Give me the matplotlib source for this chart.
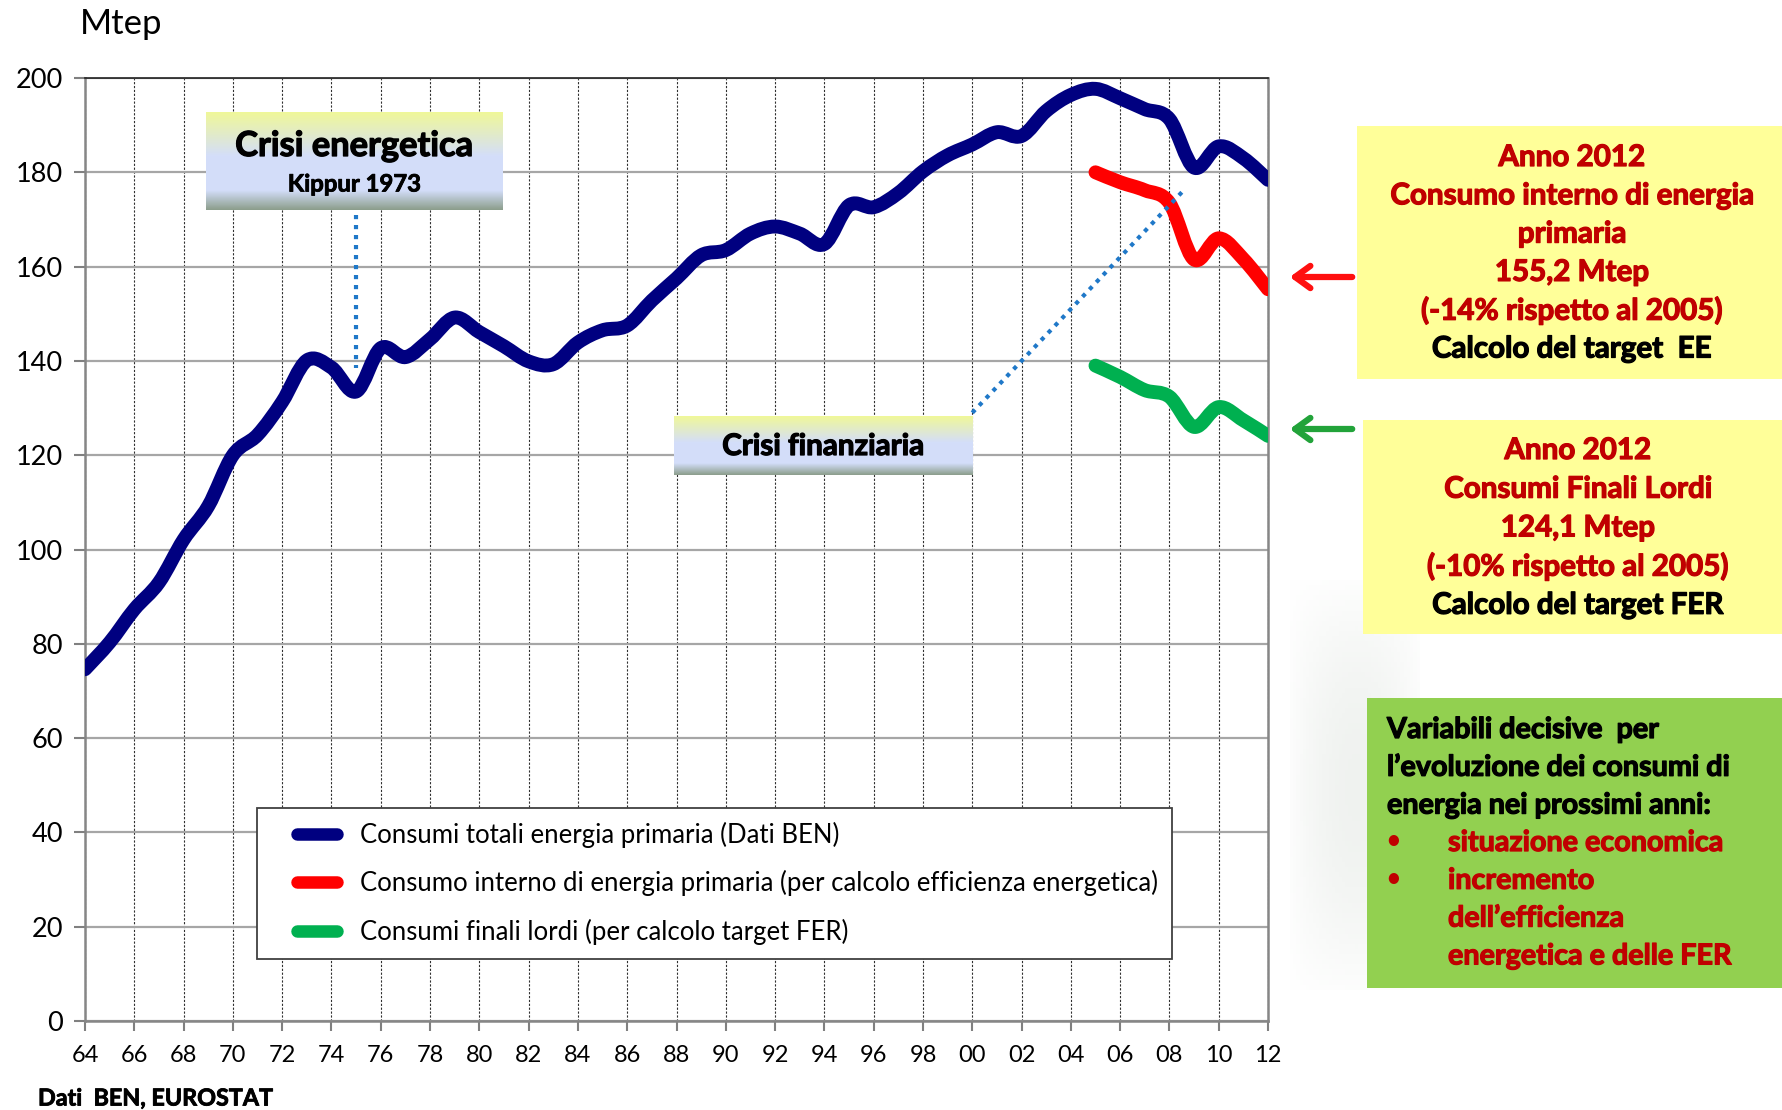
"""
Consumi di energia in Italia 1964-2012 (Mtep): primaria BEN, consumo interno, consumi finali lordi.
Salva out.png (1783x1110).
"""
import numpy as np
import matplotlib
matplotlib.use("Agg")
import matplotlib.pyplot as plt
import matplotlib.patheffects as pe
from matplotlib.path import Path
from matplotlib.patches import PathPatch, Rectangle
from matplotlib.lines import Line2D
from matplotlib.legend_handler import HandlerLine2D

plt.rcParams["font.family"] = ["Lato", "DejaVu Sans"]

W, H = 1783, 1110

# --- dati (Mtep) ---
anni_ben = list(range(1964, 2013))
consumi_totali = [74.6, 80.3, 87.3, 93.0, 102.1, 109.2, 120.0, 124.3, 131.3, 140.1,
                  138.6, 133.5, 142.7, 140.8, 144.6, 149.2, 146.1, 143.1, 139.9, 139.3,
                  143.9, 146.5, 147.5, 152.8, 157.5, 162.4, 163.5, 167.0, 168.5, 167.0,
                  164.8, 173.0, 172.6, 175.6, 180.2, 183.6, 185.9, 188.5, 187.7, 193.0,
                  196.4, 197.7, 195.7, 193.4, 191.3, 181.0, 185.5, 183.0, 178.4]

anni_ue = list(range(2005, 2013))
consumo_interno = [180.0, 177.9, 176.2, 173.5, 161.5, 166.0, 161.6, 155.2]
consumi_finali = [139.0, 136.6, 133.8, 132.4, 126.0, 130.2, 127.4, 124.1]

serie = [
    (anni_ben, consumi_totali, "#000080", "Consumi totali energia primaria (Dati BEN)"),
    (anni_ue, consumo_interno, "#FF0000",
     "Consumo interno di energia primaria (per calcolo efficienza energetica)"),
    (anni_ue, consumi_finali, "#00B050", "Consumi finali lordi (per calcolo target FER)"),
]


def curva(x, y):
    """Linea smussata stile Excel (Bezier Catmull-Rom) passante per i punti."""
    x = np.asarray(x, float)
    y = np.asarray(y, float)
    px = np.r_[x[0], x, x[-1]]
    py = np.r_[y[0], y, y[-1]]
    verts = [(x[0], y[0])]
    codes = [Path.MOVETO]
    for i in range(1, len(x)):
        j = i + 1
        c1 = (px[j - 1] + (px[j] - px[j - 2]) / 6, py[j - 1] + (py[j] - py[j - 2]) / 6)
        c2 = (px[j] - (px[j + 1] - px[j - 1]) / 6, py[j] - (py[j + 1] - py[j - 1]) / 6)
        verts += [c1, c2, (x[i], y[i])]
        codes += [Path.CURVE4] * 3
    return Path(verts, codes)


def grassetto(c, w=0.9):
    # Lato bold e' piu' leggero del Calibri bold: ispessisco un po'
    return [pe.withStroke(linewidth=w, foreground=c)]


fig = plt.figure(figsize=(W / 100, H / 100), dpi=100)
ax = fig.add_axes([85 / W, 1 - 1021 / H, (1268 - 85) / W, (1021 - 78) / H])

for x, y, col, lab in serie:
    ax.add_patch(PathPatch(curva(x, y), fill=False, edgecolor=col, lw=10,
                           capstyle="round", joinstyle="round", zorder=3))

ax.set_xlim(1964, 2012)
ax.set_ylim(0, 200)
ax.set_xticks(range(1964, 2013, 2))
ax.set_xticklabels(["{:02d}".format(a % 100) for a in range(1964, 2013, 2)])
ax.set_yticks(range(0, 201, 20))
ax.xaxis.grid(True, color="#303030", ls=(0, (2, 1.5)), lw=0.8)
ax.yaxis.grid(True, color="#A6A6A6", lw=1.6)
ax.set_axisbelow(True)
ax.tick_params(axis="y", labelsize=19.5, length=8, width=1.5, color="#808080", pad=8)
ax.tick_params(axis="x", labelsize=17, length=7, width=1.5, color="#808080", pad=10)
for s in ("left", "right", "bottom"):
    ax.spines[s].set_color("#868686")
    ax.spines[s].set_linewidth(1.8)
ax.spines["top"].set_color("#202020")
ax.spines["top"].set_linewidth(1.2)

# linee tratteggiate delle crisi
ax.plot([1975, 1975], [171, 138.6], color="#1F78C8", lw=3, ls=(0, (1, 1.4)), zorder=4)
ax.plot([2000, 2008.6], [129, 176.3], color="#1F78C8", lw=3, ls=(0, (1, 1.4)), zorder=4)

handles = [Line2D([], [], color=c, lw=9, solid_capstyle="round") for _, _, c, _ in serie]
leg = ax.legend(handles, [s[3] for s in serie], loc="upper left",
                bbox_to_anchor=(257 / W, 1 - 808 / H), bbox_transform=fig.transFigure,
                fontsize=18.5, fancybox=False, edgecolor="#404040", framealpha=1,
                handlelength=2.55, handletextpad=0.9, labelspacing=0.86,
                borderpad=0.55, borderaxespad=0,
                handler_map={Line2D: HandlerLine2D(xpad=1.0)})
leg.get_frame().set_linewidth(1.3)
leg.set_zorder(6)

# --- annotazioni in coordinate pixel ---
ov = fig.add_axes([0, 0, 1, 1])
ov.set_zorder(5)
ov.patch.set_alpha(0)


def box_gradiente(x0, y0, x1, y1):
    n = 120
    top = np.array([0.94, 0.97, 0.60])
    mid = np.array([0.83, 0.87, 0.98])
    bot = np.array([0.55, 0.62, 0.55])
    cols = np.empty((n, 3))
    for k, t in enumerate(np.linspace(0, 1, n)):
        if t < 0.45:
            cols[k] = top + (mid - top) * (t / 0.45)
        elif t < 0.8:
            cols[k] = mid
        else:
            cols[k] = mid + (bot - mid) * ((t - 0.8) / 0.2)
    img = cols[:, None, :].repeat(2, axis=1)
    ov.imshow(img, extent=(x0, x1, y1, y0), aspect="auto", interpolation="bilinear", zorder=2)


# alone grigio chiaro di sfondo (filigrana)
yy, xx = np.mgrid[0:80, 0:40]
alpha = np.clip(1 - ((xx - 20) / 22.0) ** 2, 0, 1) * np.clip(1 - ((yy - 40) / 42.0) ** 2, 0, 1) * 0.5
wm = np.zeros((80, 40, 4))
wm[..., :3] = (0.88, 0.90, 0.88)
wm[..., 3] = alpha
ov.imshow(wm, extent=(1290, 1420, 990, 580), aspect="auto", zorder=1)

box_gradiente(206, 112, 503, 210)
ov.text(354.5, 146, "Crisi energetica", ha="center", va="center", fontsize=24.8,
        fontweight="bold", zorder=3, path_effects=grassetto("black"))
ov.text(354.5, 184, "Kippur 1973", ha="center", va="center", fontsize=17.2,
        fontweight="bold", zorder=3, path_effects=grassetto("black", 0.6))

box_gradiente(674, 416, 973, 475)
ov.text(823, 446, "Crisi finanziaria", ha="center", va="center", fontsize=21.3,
        fontweight="bold", zorder=3, path_effects=grassetto("black"))

rosso = "#C00000"
ov.add_patch(Rectangle((1357, 126), W - 1357, 253, fc="#FFFF99", ec="none", zorder=2))
righe1 = [("Anno 2012", rosso), ("Consumo interno di energia", rosso), ("primaria", rosso),
          ("155,2 Mtep", rosso), ("(-14% rispetto al 2005)", rosso),
          ("Calcolo del target  EE", "black")]
for k, (t, c) in enumerate(righe1):
    ov.text(1572, 157 + 38.3 * k, t, ha="center", va="center", fontsize=21.3,
            fontweight="bold", color=c, zorder=3, path_effects=grassetto(c))

ov.add_patch(Rectangle((1363, 420), W - 1363, 214, fc="#FFFF99", ec="none", zorder=2))
righe2 = [("Anno 2012", rosso), ("Consumi Finali Lordi", rosso), ("124,1 Mtep", rosso),
          ("(-10% rispetto al 2005)", rosso), ("Calcolo del target FER", "black")]
for k, (t, c) in enumerate(righe2):
    ov.text(1578, 450 + 38.7 * k, t, ha="center", va="center", fontsize=21.3,
            fontweight="bold", color=c, zorder=3, path_effects=grassetto(c))

ov.add_patch(Rectangle((1367, 698), W - 1367, 290, fc="#92D050", ec="none", zorder=2))
for k, t in enumerate(["Variabili decisive  per", "l\u2019evoluzione dei consumi di",
                       "energia nei prossimi anni:"]):
    ov.text(1387, 730 + 37.8 * k, t, ha="left", va="center", fontsize=20.7,
            fontweight="bold", color="black", zorder=3, path_effects=grassetto("black"))
for k, t in enumerate(["situazione economica", "incremento", "dell\u2019efficienza",
                       "energetica e delle FER"]):
    ov.text(1448, 843 + 37.8 * k, t, ha="left", va="center", fontsize=20.7,
            fontweight="bold", color=rosso, zorder=3, path_effects=grassetto(rosso))
    if k < 2:
        ov.text(1393, 841 + 37.8 * k, "\u2022", ha="center", va="center", fontsize=17,
                fontweight="bold", color=rosso, zorder=3)

for y, c in ((277, "#FF1010"), (429, "#22A33A")):
    ov.annotate("", xy=(1287, y), xytext=(1355, y),
                arrowprops=dict(arrowstyle="->,head_length=1.1,head_width=0.8",
                                color=c, lw=4.5), zorder=3)

ov.set_xlim(0, W)
ov.set_ylim(H, 0)
ov.axis("off")

fig.text(80 / W, 1 - 24 / H, "Mtep", ha="left", va="center", fontsize=25)
fig.text(38 / W, 1 - 1099 / H, "Dati  BEN, EUROSTAT", ha="left", va="center",
         fontsize=16.8, fontweight="bold", path_effects=grassetto("black", 0.6))

fig.savefig("out.png", dpi=100)
